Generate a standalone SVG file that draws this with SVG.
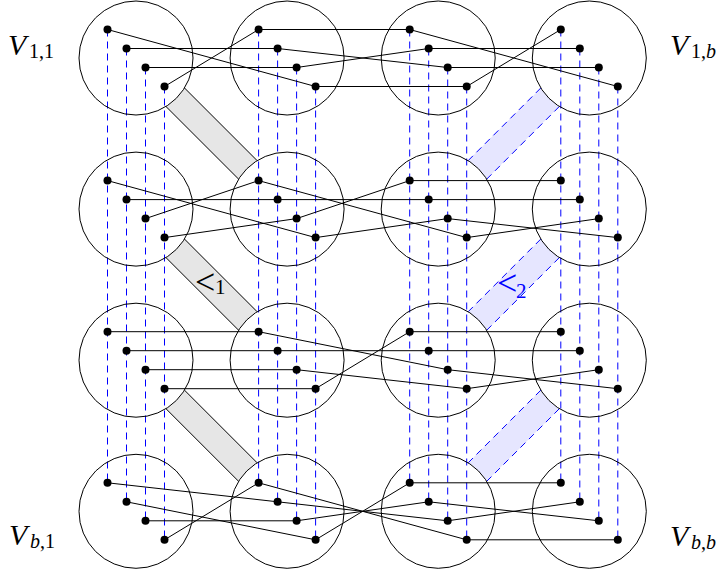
<svg xmlns="http://www.w3.org/2000/svg" width="717" height="573" viewBox="0 0 717 573">
<style>
.circ{fill:none;stroke:#000;stroke-width:1}
.edge{stroke:#000;stroke-width:1;fill:none}
.dash{stroke:#00f;stroke-width:1;stroke-dasharray:7 5;fill:none}
.gband{fill:#e6e6e6;stroke:none}
.gborder{stroke:#000;stroke-width:1;fill:none}
.bband{fill:#e6e6ff;stroke:none}
.bborder{stroke:#00f;stroke-width:1;stroke-dasharray:7 5;fill:none}
.lbl{font-family:"Liberation Serif","Times New Roman",serif;fill:#000}
.it{font-style:italic}
</style>
<rect width="717" height="573" fill="#fff"/>
<g id="bands">
<path class="gband" d="M184.49,87.96 L257.14,160.61 A57,57 0 0 0 238.61,179.14 L165.96,106.49 A57,57 0 0 0 184.49,87.96 Z"/>
<path class="gborder" d="M184.49,87.96 L257.14,160.61 M238.61,179.14 L165.96,106.49"/>
<path class="gband" d="M184.49,239.06 L257.14,311.71 A57,57 0 0 0 238.61,330.24 L165.96,257.59 A57,57 0 0 0 184.49,239.06 Z"/>
<path class="gborder" d="M184.49,239.06 L257.14,311.71 M238.61,330.24 L165.96,257.59"/>
<path class="gband" d="M184.49,390.16 L257.14,462.81 A57,57 0 0 0 238.61,481.34 L165.96,408.69 A57,57 0 0 0 184.49,390.16 Z"/>
<path class="gborder" d="M184.49,390.16 L257.14,462.81 M238.61,481.34 L165.96,408.69"/>
<path class="bband" d="M559.34,106.49 L486.69,179.14 A57,57 0 0 0 468.16,160.61 L540.81,87.96 A57,57 0 0 0 559.34,106.49 Z"/>
<path class="bborder" d="M559.34,106.49 L486.69,179.14 M540.81,87.96 L468.16,160.61"/>
<path class="bband" d="M559.34,257.59 L486.69,330.24 A57,57 0 0 0 468.16,311.71 L540.81,239.06 A57,57 0 0 0 559.34,257.59 Z"/>
<path class="bborder" d="M559.34,257.59 L486.69,330.24 M540.81,239.06 L468.16,311.71"/>
<path class="bband" d="M559.34,408.69 L486.69,481.34 A57,57 0 0 0 468.16,462.81 L540.81,390.16 A57,57 0 0 0 559.34,408.69 Z"/>
<path class="bborder" d="M559.34,408.69 L486.69,481.34 M540.81,390.16 L468.16,462.81"/>
<text class="lbl" x="195" y="293.5" font-size="36">&lt;<tspan x="215" y="294" font-size="21">1</tspan></text>
<text class="lbl" x="497" y="294.5" font-size="36" style="fill:#00f">&lt;<tspan x="516" y="297.5" font-size="21">2</tspan></text>
</g>
<g id="connectors">
<path class="dash" d="M107.5,29.5V482.8 M258.6,29.5V482.8 M409.7,29.5V482.8 M560.8,29.5V482.8 M126.5,48.5V501.8 M277.6,48.5V501.8 M428.7,48.5V501.8 M579.8,48.5V501.8 M145.5,67.5V520.8 M296.6,67.5V520.8 M447.7,67.5V520.8 M598.8,67.5V520.8 M164.5,86.5V539.8 M315.6,86.5V539.8 M466.7,86.5V539.8 M617.8,86.5V539.8"/>
<path class="edge" d="M107.5,29.5L315.6,86.5 M126.5,48.5L277.6,48.5 M145.5,67.5L296.6,67.5 M164.5,86.5L258.6,29.5
M258.6,29.5L409.7,29.5 M277.6,48.5L447.7,67.5 M296.6,67.5L428.7,48.5 M315.6,86.5L466.7,86.5
M409.7,29.5L617.8,86.5 M428.7,48.5L579.8,48.5 M447.7,67.5L598.8,67.5 M466.7,86.5L560.8,29.5"/>
<path class="edge" d="M107.5,180.6L315.6,237.6 M126.5,199.6L277.6,199.6 M145.5,218.6L258.6,180.6 M164.5,237.6L296.6,218.6
M258.6,180.6L466.7,237.6 M277.6,199.6L428.7,199.6 M296.6,218.6L409.7,180.6 M315.6,237.6L447.7,218.6
M409.7,180.6L560.8,180.6 M428.7,199.6L579.8,199.6 M447.7,218.6L617.8,237.6 M466.7,237.6L598.8,218.6"/>
<path class="edge" d="M107.5,331.7L258.6,331.7 M126.5,350.7L277.6,350.7 M145.5,369.7L296.6,369.7 M164.5,388.7L315.6,388.7
M258.6,331.7L447.7,369.7 M277.6,350.7L428.7,350.7 M296.6,369.7L466.7,388.7 M315.6,388.7L409.7,331.7
M409.7,331.7L560.8,331.7 M428.7,350.7L579.8,350.7 M447.7,369.7L617.8,388.7 M466.7,388.7L598.8,369.7"/>
<path class="edge" d="M107.5,482.8L277.6,501.8 M126.5,501.8L315.6,539.8 M145.5,520.8L296.6,520.8 M164.5,539.8L258.6,482.8
M258.6,482.8L466.7,539.8 M277.6,501.8L447.7,520.8 M296.6,520.8L428.7,501.8 M315.6,539.8L409.7,482.8
M409.7,482.8L560.8,482.8 M428.7,501.8L598.8,520.8 M447.7,520.8L579.8,501.8 M466.7,539.8L617.8,539.8"/>
</g>
<defs>
<circle id="pt" r="4" fill="#000"/>
</defs>
<g id="V-1-1"><circle class="circ" cx="136" cy="58" r="57"/><use href="#pt" x="107.5" y="29.5"/><use href="#pt" x="126.5" y="48.5"/><use href="#pt" x="145.5" y="67.5"/><use href="#pt" x="164.5" y="86.5"/></g>
<g id="V-1-2"><circle class="circ" cx="287.1" cy="58" r="57"/><use href="#pt" x="258.6" y="29.5"/><use href="#pt" x="277.6" y="48.5"/><use href="#pt" x="296.6" y="67.5"/><use href="#pt" x="315.6" y="86.5"/></g>
<g id="V-1-3"><circle class="circ" cx="438.2" cy="58" r="57"/><use href="#pt" x="409.7" y="29.5"/><use href="#pt" x="428.7" y="48.5"/><use href="#pt" x="447.7" y="67.5"/><use href="#pt" x="466.7" y="86.5"/></g>
<g id="V-1-4"><circle class="circ" cx="589.3" cy="58" r="57"/><use href="#pt" x="560.8" y="29.5"/><use href="#pt" x="579.8" y="48.5"/><use href="#pt" x="598.8" y="67.5"/><use href="#pt" x="617.8" y="86.5"/></g>
<g id="V-2-1"><circle class="circ" cx="136" cy="209.1" r="57"/><use href="#pt" x="107.5" y="180.6"/><use href="#pt" x="126.5" y="199.6"/><use href="#pt" x="145.5" y="218.6"/><use href="#pt" x="164.5" y="237.6"/></g>
<g id="V-2-2"><circle class="circ" cx="287.1" cy="209.1" r="57"/><use href="#pt" x="258.6" y="180.6"/><use href="#pt" x="277.6" y="199.6"/><use href="#pt" x="296.6" y="218.6"/><use href="#pt" x="315.6" y="237.6"/></g>
<g id="V-2-3"><circle class="circ" cx="438.2" cy="209.1" r="57"/><use href="#pt" x="409.7" y="180.6"/><use href="#pt" x="428.7" y="199.6"/><use href="#pt" x="447.7" y="218.6"/><use href="#pt" x="466.7" y="237.6"/></g>
<g id="V-2-4"><circle class="circ" cx="589.3" cy="209.1" r="57"/><use href="#pt" x="560.8" y="180.6"/><use href="#pt" x="579.8" y="199.6"/><use href="#pt" x="598.8" y="218.6"/><use href="#pt" x="617.8" y="237.6"/></g>
<g id="V-3-1"><circle class="circ" cx="136" cy="360.2" r="57"/><use href="#pt" x="107.5" y="331.7"/><use href="#pt" x="126.5" y="350.7"/><use href="#pt" x="145.5" y="369.7"/><use href="#pt" x="164.5" y="388.7"/></g>
<g id="V-3-2"><circle class="circ" cx="287.1" cy="360.2" r="57"/><use href="#pt" x="258.6" y="331.7"/><use href="#pt" x="277.6" y="350.7"/><use href="#pt" x="296.6" y="369.7"/><use href="#pt" x="315.6" y="388.7"/></g>
<g id="V-3-3"><circle class="circ" cx="438.2" cy="360.2" r="57"/><use href="#pt" x="409.7" y="331.7"/><use href="#pt" x="428.7" y="350.7"/><use href="#pt" x="447.7" y="369.7"/><use href="#pt" x="466.7" y="388.7"/></g>
<g id="V-3-4"><circle class="circ" cx="589.3" cy="360.2" r="57"/><use href="#pt" x="560.8" y="331.7"/><use href="#pt" x="579.8" y="350.7"/><use href="#pt" x="598.8" y="369.7"/><use href="#pt" x="617.8" y="388.7"/></g>
<g id="V-4-1"><circle class="circ" cx="136" cy="511.3" r="57"/><use href="#pt" x="107.5" y="482.8"/><use href="#pt" x="126.5" y="501.8"/><use href="#pt" x="145.5" y="520.8"/><use href="#pt" x="164.5" y="539.8"/></g>
<g id="V-4-2"><circle class="circ" cx="287.1" cy="511.3" r="57"/><use href="#pt" x="258.6" y="482.8"/><use href="#pt" x="277.6" y="501.8"/><use href="#pt" x="296.6" y="520.8"/><use href="#pt" x="315.6" y="539.8"/></g>
<g id="V-4-3"><circle class="circ" cx="438.2" cy="511.3" r="57"/><use href="#pt" x="409.7" y="482.8"/><use href="#pt" x="428.7" y="501.8"/><use href="#pt" x="447.7" y="520.8"/><use href="#pt" x="466.7" y="539.8"/></g>
<g id="V-4-4"><circle class="circ" cx="589.3" cy="511.3" r="57"/><use href="#pt" x="560.8" y="482.8"/><use href="#pt" x="579.8" y="501.8"/><use href="#pt" x="598.8" y="520.8"/><use href="#pt" x="617.8" y="539.8"/></g>
<g id="labels">
<text class="lbl" font-size="30"><tspan class="it" x="8" y="55">V</tspan><tspan x="29" y="58" font-size="20">1,1</tspan></text>
<text class="lbl" font-size="30"><tspan class="it" x="670" y="55">V</tspan><tspan x="691" y="58" font-size="20">1,<tspan class="it">b</tspan></tspan></text>
<text class="lbl" font-size="30"><tspan class="it" x="9" y="545">V</tspan><tspan x="30" y="548" font-size="20"><tspan class="it">b</tspan>,1</tspan></text>
<text class="lbl" font-size="30"><tspan class="it" x="670" y="546">V</tspan><tspan x="691" y="549" font-size="20"><tspan class="it">b</tspan>,<tspan class="it">b</tspan></tspan></text>
</g>
</svg>
